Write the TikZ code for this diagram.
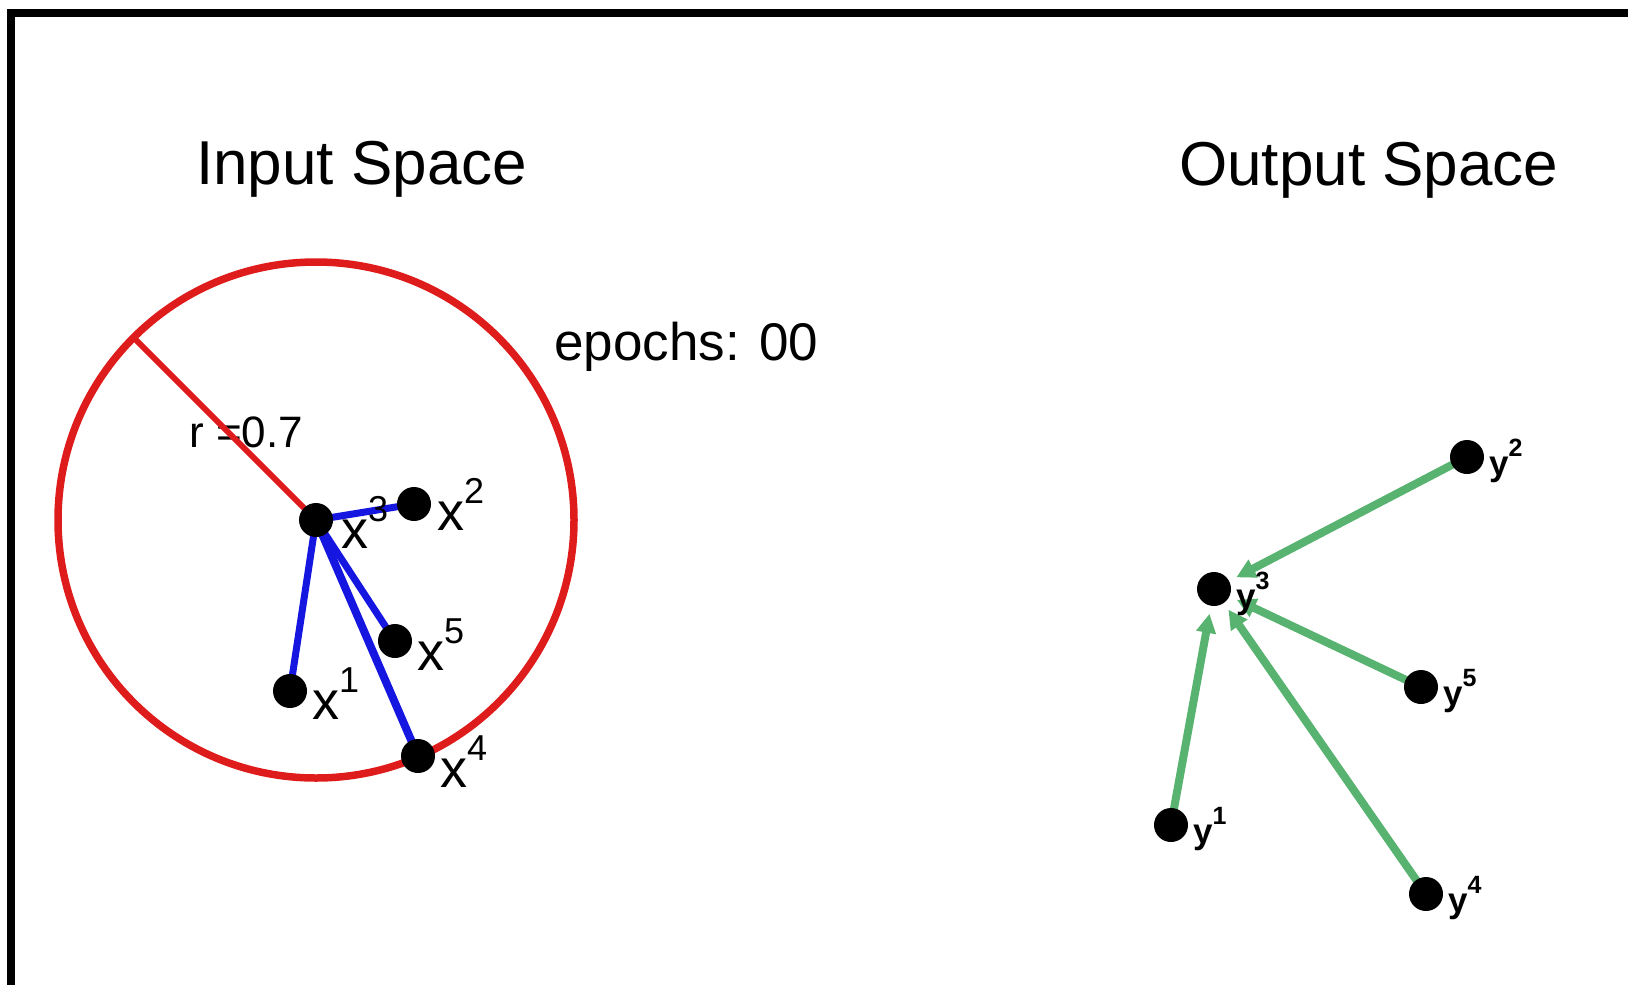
\documentclass[tikz,border=0pt]{standalone}
\usepackage{fontspec}
\setmainfont{Liberation Sans}
\usetikzlibrary{arrows.meta,backgrounds}

\definecolor{ringred}{RGB}{222,28,28}
\definecolor{linkblue}{RGB}{22,22,225}
\definecolor{flowgreen}{RGB}{88,178,112}

% superscripted point labels
\newcommand{\xlabel}[1]{x\raisebox{27pt}{\fontsize{36}{36}\selectfont #1}}
\newcommand{\ylabel}[1]{y\raisebox{19pt}{\fontsize{25}{25}\selectfont #1}}

\begin{document}
\begin{tikzpicture}[x=1pt,y=-1pt,
  dot/.style={circle,fill=black,inner sep=0pt,minimum size=34pt},
  title/.style={anchor=base west,inner sep=0pt,font=\fontsize{62}{64}\selectfont},
  xlab/.style={anchor=base west,inner sep=0pt,font=\fontsize{54}{55}\selectfont},
  ylab/.style={anchor=base west,inner sep=0pt,font=\bfseries\fontsize{35}{37}\selectfont},
  link/.style={linkblue,line width=7pt},
  pull/.style={flowgreen,line width=8pt,shorten >=8pt,
    -{Triangle[length=19pt,width=19pt]}},
  frameline/.style={line width=8pt,miter limit=10}
]
\useasboundingbox (0,0) rectangle (1628,985);

% frame (top and left edges)
\draw[frameline] (11,989) -- (11,13) -- (1632,13);

% titles
\node[title] (tin) at (196,184) {Input Space};
\node[title] (tout) at (1179,185) {Output Space};
\node[anchor=base west,inner sep=0pt,font=\fontsize{53}{54}\selectfont] (ep) at (554,360) {epochs: 00};

% input space points
\node[dot] (x3) at (316,520) {};
\node[dot] (x2) at (414,504) {};
\node[dot] (x5) at (395,641) {};
\node[dot] (x1) at (290,691) {};
\node[dot] (x4) at (418,756) {};

\node[xlab] (lx1) at (312,719) {\xlabel{1}};
\node[xlab] (lx2) at (437,530) {\xlabel{2}};
\node[xlab] (lx3) at (341,548) {\xlabel{3}};
\node[xlab] (lx4) at (440,787) {\xlabel{4}};
\node[xlab] (lx5) at (417,670) {\xlabel{5}};

\begin{scope}[on background layer]
  \draw[ringred,line width=7.5pt] (x3.center) circle[radius=258pt];
  \path (x3.center) ++(135:258pt) coordinate (rim);
  \node[anchor=base west,inner sep=0pt,font=\fontsize{44}{46}\selectfont] (rl) at (189,447) {r =0.7};
  \draw[ringred,line width=6pt] (x3.center) -- (rim);
  \draw[link] (x3.center) -- (x2.center);
  \draw[link] (x3.center) -- (x1.center);
  \draw[link] (x3.center) -- (x5.center);
  \draw[link,line width=8pt] (x3.center) -- (x4.center);
\end{scope}

% output space points
\node[dot] (y3) at (1214,589) {};
\node[dot] (y2) at (1467,457) {};
\node[dot] (y5) at (1421,687) {};
\node[dot] (y1) at (1171,825) {};
\node[dot] (y4) at (1426,894) {};

\node[ylab] (ly1) at (1193,843) {\ylabel{1}};
\node[ylab] (ly2) at (1489,475) {\ylabel{2}};
\node[ylab] (ly3) at (1236,608) {\ylabel{3}};
\node[ylab] (ly4) at (1448,912) {\ylabel{4}};
\node[ylab] (ly5) at (1443,705) {\ylabel{5}};

\begin{scope}[on background layer]
  \draw[pull] (y2.center) -- (y3);
  \draw[pull] (y5.center) -- (y3);
  \draw[pull] (y4.center) -- (y3);
  \draw[pull] (y1.center) -- (y3);
\end{scope}
\end{tikzpicture}
\end{document}
